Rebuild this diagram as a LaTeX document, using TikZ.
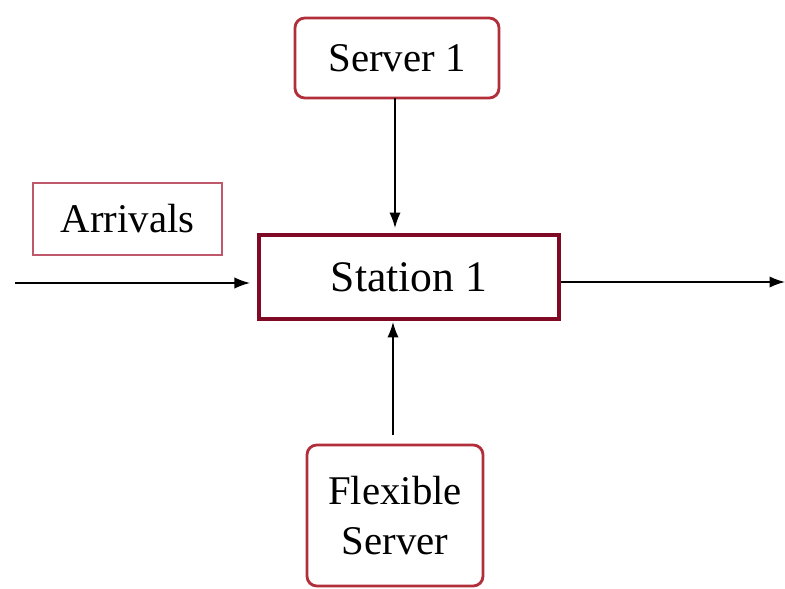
\documentclass[tikz,border=0pt]{standalone}
\usepackage{fontspec}
\setmainfont{Liberation Serif}
\usetikzlibrary{positioning,arrows.meta}
\definecolor{boxred}{RGB}{178,46,58}
\definecolor{stnred}{RGB}{128,10,38}
\definecolor{arrred}{RGB}{192,88,108}

\begin{document}
\begin{tikzpicture}[x=0.025cm,y=-0.025cm,
    srvbox/.style={rectangle,rounded corners=7pt,draw=boxred,line width=2pt,font=\fontsize{29}{36}\selectfont,align=center},
    stnbox/.style={rectangle,draw=stnred,line width=2.8pt,minimum width=7.5cm,minimum height=2.1cm,font=\fontsize{31}{36}\selectfont},
    arrbox/.style={rectangle,draw=arrred,line width=0.9pt,minimum width=4.725cm,minimum height=1.8cm,font=\fontsize{29}{36}\selectfont},
    flow/.style={-{Latex[length=11pt,width=8pt]},line width=1pt}]

\useasboundingbox (0,0) rectangle (785,588);

\node[stnbox] (stn) at (409,277) {Station 1};
\node[srvbox,minimum width=5.1cm,minimum height=2cm] (srv) at (397,58) {Server 1};
\node[arrbox] (arr) at (127.5,219) {Arrivals};
\node[srvbox,minimum width=4.4cm,minimum height=3.525cm,text depth=-16pt] (flex) at (395,515.5) {Flexible\\Server};

\coordinate (in) at (15,283);
\coordinate (out) at (785,282);

% connectors
\draw[flow,shorten >=5pt] (in) -- (in -| stn.west);
\draw[flow] (stn.east |- out) -- (out);
\draw[flow,shorten >=5pt] (395,98) -- (395,235);
\draw[flow,shorten <=7pt] (393,445) -- (393,322);

\end{tikzpicture}
\end{document}
